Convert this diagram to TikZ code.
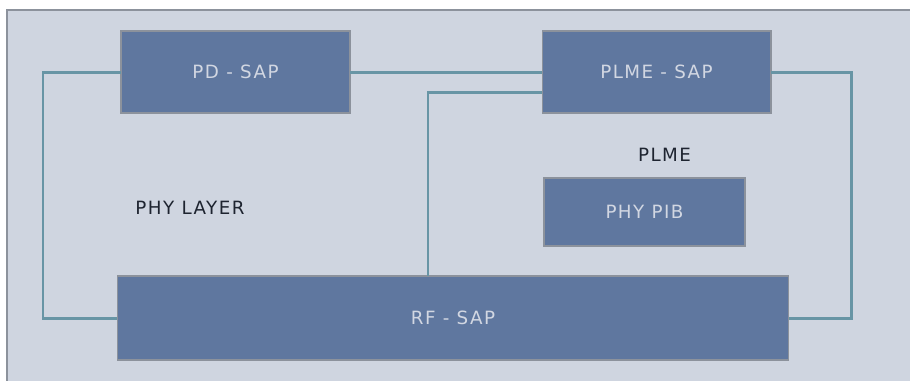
\documentclass[tikz,border=0pt]{standalone}
\usepackage{fontspec}
\setmainfont{DejaVu Sans}[LetterSpace=8]
\usepackage{tikz}
\usepackage{xcolor}
\usetikzlibrary{positioning}

\definecolor{pagebg}{HTML}{CFD5E0}
\definecolor{boxfill}{HTML}{5F779F}
\definecolor{boxline}{HTML}{8C929C}
\definecolor{linkcol}{HTML}{6895A5}
\definecolor{boxtext}{HTML}{D2D7E2}
\definecolor{plaintext}{HTML}{1E2430}

\begin{document}
\begin{tikzpicture}[x=0.02cm, y=-0.02cm,
    sapbox/.style={rectangle, draw=boxline, line width=0.6pt, fill=boxfill,
                   text=boxtext, inner sep=0pt, outer sep=0pt,
                   font=\fontsize{10.4}{12}\selectfont},
    plain/.style={text=plaintext, inner sep=0pt, font=\fontsize{10.4}{12}\selectfont},
    link/.style={draw=linkcol, line width=1.7pt}]
      %\draw [dotted] (0,0) grid [step=50] (910,380);
      \useasboundingbox (0,0) rectangle (910,380);
      \fill [white] (0,0) rectangle (910,380);
      \draw [draw=boxline, fill=pagebg, line width=0.9pt] (7,10) rectangle (920,390);
      \node [sapbox, minimum width=4.58cm, minimum height=1.64cm]  (pd) at (235.5, 72) {PD - SAP};
      \node [sapbox, minimum width=4.58cm, minimum height=1.64cm]  (pl) at (656.5, 72) {PLME - SAP};
      \node [sapbox, minimum width=4.02cm, minimum height=1.36cm] (pib) at (644.5, 212) {PHY PIB};
      \node [sapbox, minimum width=13.44cm, minimum height=1.68cm] (rf) at (453.0, 318) {RF - SAP};
      \node [plain]                                             (plme) at (664.5, 155) {PLME};
      \node [plain]                                              (phy) at (190.0, 208) {PHY LAYER};
      \coordinate (cl) at ( 43, 195);
      \coordinate (cr) at (851, 195);
      \coordinate (cm) at (428,  92);
      \draw [link] (pd.east) -- (pl.west);
      \draw [link] (pd.west) -| (cl) |- (rf.west);
      \draw [link] (pl.east) -| (cr) |- (rf.east);
      \draw [link] (cm -| pl.west) -- (cm) -- (cm |- rf.north);
\end{tikzpicture}
\end{document}
